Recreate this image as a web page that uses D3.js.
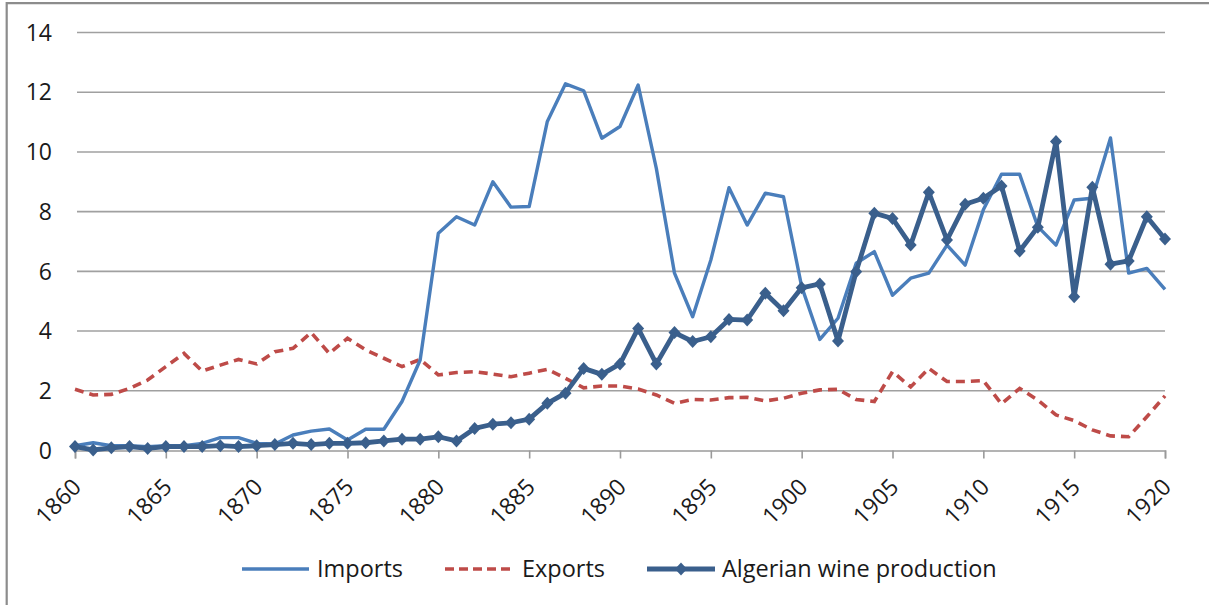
<!DOCTYPE html>
<html>
<head>
<meta charset="utf-8">
<script src="https://cdn.jsdelivr.net/npm/d3@7"></script>
<style>
  body { margin: 0; background: #fff; }
  text { font-family: "Open Sans", sans-serif; fill: #1a1a1a; }
</style>
</head>
<body>
<div id="chart"></div>
<script>
// years 1860..1920
var years = d3.range(1860, 1921);
var yTicks = [0, 2, 4, 6, 8, 10, 12, 14];
var xTicks = [1860, 1865, 1870, 1875, 1880, 1885, 1890, 1895, 1900, 1905, 1910, 1915, 1920];
var seriesNames = ["Imports", "Exports", "Algerian wine production"];

var imports = [0.16, 0.26, 0.16, 0.16, 0.13, 0.16, 0.16, 0.24, 0.43, 0.43,
  0.24, 0.22, 0.52, 0.65, 0.72, 0.35, 0.71, 0.71, 1.64, 3.03,
  7.28, 7.83, 7.55, 9.0, 8.15, 8.17, 11.02, 12.28, 12.05, 10.46,
  10.85, 12.24, 9.45, 5.94, 4.48, 6.38, 8.8, 7.55, 8.62, 8.5,
  5.49, 3.72, 4.43, 6.27, 6.66, 5.2, 5.77, 5.94, 6.88, 6.21,
  8.06, 9.25, 9.25, 7.5, 6.88, 8.39, 8.45, 10.47, 5.94, 6.1,
  5.4];
var exports = [2.05, 1.86, 1.88, 2.08, 2.36, 2.81, 3.25, 2.66, 2.86, 3.05,
  2.9, 3.31, 3.42, 3.95, 3.25, 3.76, 3.37, 3.09, 2.81, 3.05,
  2.53, 2.61, 2.64, 2.56, 2.47, 2.59, 2.72, 2.42, 2.1, 2.16,
  2.16, 2.06, 1.86, 1.58, 1.71, 1.69, 1.77, 1.78, 1.66, 1.75,
  1.92, 2.03, 2.05, 1.71, 1.64, 2.64, 2.13, 2.75, 2.31, 2.31,
  2.34, 1.56, 2.08, 1.69, 1.19, 1.0, 0.69, 0.49, 0.46, 1.13,
  1.83];
var production = [0.13, 0.02, 0.09, 0.13, 0.07, 0.13, 0.13, 0.13, 0.16, 0.13,
  0.16, 0.2, 0.24, 0.2, 0.24, 0.24, 0.26, 0.32, 0.38, 0.38,
  0.46, 0.32, 0.74, 0.88, 0.93, 1.05, 1.58, 1.92, 2.75, 2.55,
  2.9, 4.09, 2.9, 3.95, 3.65, 3.81, 4.39, 4.37, 5.27, 4.68,
  5.45, 5.58, 3.67, 5.99, 7.95, 7.77, 6.88, 8.65, 7.05, 8.25,
  8.45, 8.86, 6.68, 7.48, 10.35, 5.15, 8.82, 6.24, 6.35, 7.83,
  7.08];

var colImports = "#4a7ebb";
var colExports = "#be4b48";
var colProd = "#3a5f8c";

var widthx = 1209;//画布宽度
var heighty = 605;//画布高度
var margin = {top: 32.5, right: 44, bottom: 154.5, left: 75},
    width = widthx - margin.left - margin.right,
    height = heighty - margin.top - margin.bottom;

var svgRoot = d3.select("#chart")
    .append("svg")
    .attr("width", widthx)
    .attr("height", heighty);

// outer frame (only top and left edges are inside the picture)
svgRoot.append("path")
    .attr("d", "M6.7,605 L6.7,3.2 L1209,3.2")
    .attr("fill", "none")
    .attr("stroke", "#8c8c8c")
    .attr("stroke-width", 2.2);

var svg = svgRoot.append("g")
    .attr("transform", "translate(" + margin.left + "," + margin.top + ")");

var x = d3.scaleLinear()
    .domain([1860, 1920])
    .range([0, width]);

var y = d3.scaleLinear()
    .domain([0, 14])
    .range([height, 0]);

// gridlines
svg.append("g")
    .selectAll("line")
    .data(yTicks.filter(function(d) { return d > 0; }))
    .enter().append("line")
    .attr("x1", 2)
    .attr("x2", width)
    .attr("y1", function(d) { return y(d); })
    .attr("y2", function(d) { return y(d); })
    .attr("stroke", "#a0a0a0")
    .attr("stroke-width", 1.6);

// y labels
svg.append("g")
    .selectAll("text")
    .data(yTicks)
    .enter().append("text")
    .attr("x", -23)
    .attr("y", function(d) { return y(d); })
    .attr("dy", "0.36em")
    .attr("text-anchor", "end")
    .style("font-size", "23px")
    .text(function(d) { return d; });

// x axis
var xAxis = svg.append("g")
    .attr("transform", "translate(0," + height + ")")
    .call(d3.axisBottom(x).tickValues(xTicks).tickSize(8).tickFormat(d3.format("d")));
xAxis.select(".domain").attr("stroke", "#9a9a9a").attr("stroke-width", 1.6);
xAxis.selectAll(".tick line").attr("stroke", "#9a9a9a").attr("stroke-width", 1.6);
xAxis.selectAll(".tick text")
    .attr("y", 0)
    .attr("dy", 0)
    .attr("text-anchor", "end")
    .attr("transform", "translate(7,38) rotate(-45)")
    .style("font-size", "23px")
    .style("font-family", "'Open Sans', sans-serif")
    .attr("fill", "#1a1a1a");

var line = d3.line()
    .x(function(d, i) { return x(years[i]); })
    .y(function(d) { return y(d); });

svg.append("path")
    .datum(exports)
    .attr("d", line)
    .attr("fill", "none")
    .attr("stroke", colExports)
    .attr("stroke-width", 3.6)
    .attr("stroke-dasharray", "9,6");

svg.append("path")
    .datum(imports)
    .attr("d", line)
    .attr("fill", "none")
    .attr("stroke", colImports)
    .attr("stroke-width", 3.4)
    .attr("stroke-linejoin", "round");

svg.append("path")
    .datum(production)
    .attr("d", line)
    .attr("fill", "none")
    .attr("stroke", colProd)
    .attr("stroke-width", 4.8)
    .attr("stroke-linejoin", "round");

var diamond = "M0,-6.5L6,0L0,6.5L-6,0Z";
svg.append("g")
    .selectAll("path")
    .data(production)
    .enter().append("path")
    .attr("d", diamond)
    .attr("transform", function(d, i) { return "translate(" + x(years[i]) + "," + y(d) + ")"; })
    .attr("fill", colProd);

// legend
var legend = svgRoot.append("g").attr("transform", "translate(0,569)");
var legendItems = [
  {x1: 242, x2: 309, tx: 317, color: colImports, w: 3.4, dash: null, marker: false},
  {x1: 445, x2: 515, tx: 522, color: colExports, w: 3.6, dash: "9,5", marker: false},
  {x1: 647, x2: 715, tx: 722, color: colProd, w: 4.8, dash: null, marker: true}
];
legendItems.forEach(function(it, i) {
  legend.append("line")
      .attr("x1", it.x1).attr("x2", it.x2)
      .attr("stroke", it.color)
      .attr("stroke-width", it.w)
      .attr("stroke-dasharray", it.dash);
  if (it.marker) {
    legend.append("path")
        .attr("d", diamond)
        .attr("transform", "translate(" + ((it.x1 + it.x2) / 2) + ",0)")
        .attr("fill", it.color);
  }
  legend.append("text")
      .attr("x", it.tx)
      .attr("dy", "0.36em")
      .style("font-size", "23.5px")
      .text(seriesNames[i]);
});
</script>
</body>
</html>
